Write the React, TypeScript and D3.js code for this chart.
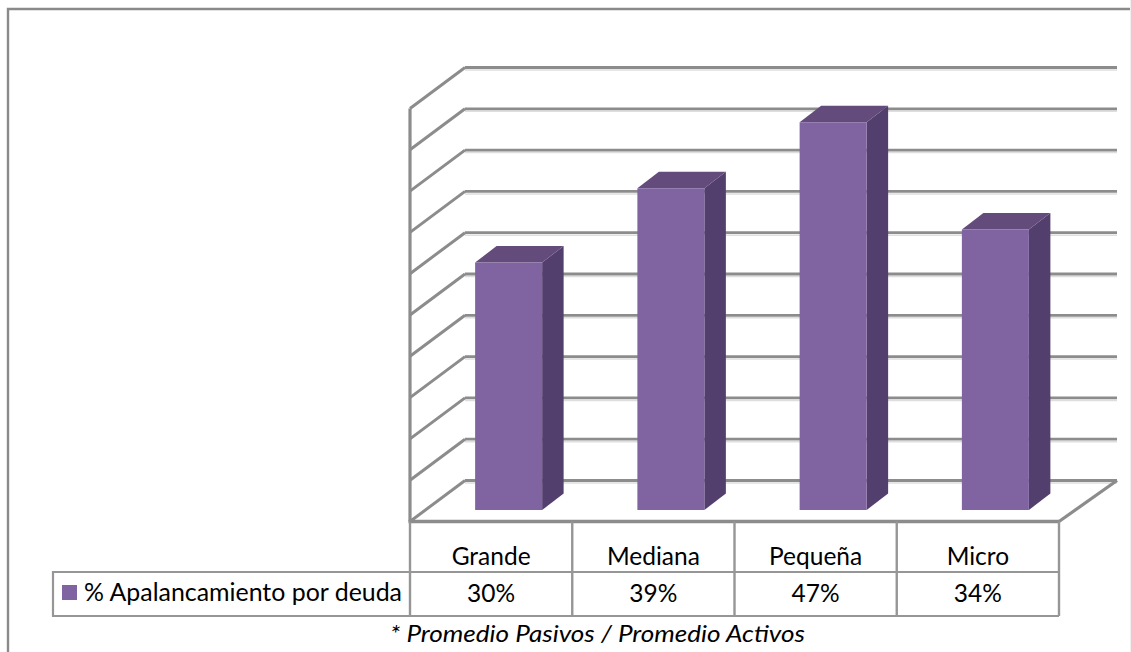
import React from "react";
import * as d3 from "d3";

const categories = ["Grande", "Mediana", "Pequeña", "Micro"];
const leverage = [30, 39, 47, 34];
const gridTicks = [0, 5, 10, 15, 20, 25, 30, 35, 40, 45, 50];
const seriesName = "% Apalancamiento por deuda";
const footnote = "* Promedio Pasivos / Promedio Activos";

const WIDTH = 1131;
const HEIGHT = 652;
const GRID = "#8c8c8c";
const GRID_SHADOW = "#dedede";
const FACE = "#8064a2";
const TOP = "#634b7c";
const SIDE = "#533f6d";
const FONT = "Lato, 'Open Sans', sans-serif";

// Plot box: a front plane carries the table columns, a back plane the gridlines.
const frontX = d3.scaleBand<string>().domain(categories).range([410, 1059]);
const backY = d3.scaleLinear().domain([0, 50]).range([480.5, 67.5]);
const frontY = d3.scaleLinear().domain([0, 50]).range([521.5, 108.5]);
const barY = d3.scaleLinear().domain([0, 50]).range([510, 97.5]);

const BACK_LEFT = 465;
const BACK_RIGHT = 1117;
const BAR_WIDTH = 67;
const BAR_SHIFT = 17.5;
const BAR_DX = 21.5;
const BAR_DY = -16.5;

const polyline = d3.line<[number, number]>();

function Bar({ name, value }: { name: string; value: number }) {
  const x0 = frontX(name)! + frontX.bandwidth() / 2 + BAR_SHIFT - BAR_WIDTH / 2;
  const x1 = x0 + BAR_WIDTH;
  const top = barY(value);
  const bottom = barY(0);
  const topFace: [number, number][] = [
    [x0, top],
    [x0 + BAR_DX, top + BAR_DY],
    [x1 + BAR_DX, top + BAR_DY],
    [x1, top],
  ];
  const sideFace: [number, number][] = [
    [x1, top],
    [x1 + BAR_DX, top + BAR_DY],
    [x1 + BAR_DX, bottom + BAR_DY],
    [x1, bottom],
  ];
  return (
    <g>
      <path d={polyline(sideFace)! + "Z"} fill={SIDE} />
      <path d={polyline(topFace)! + "Z"} fill={TOP} />
      <rect x={x0} y={top} width={BAR_WIDTH} height={bottom - top} fill={FACE} />
    </g>
  );
}

export default function App() {
  const columnEdges = [...categories.map((c) => frontX(c)!), 1059];
  return (
    <svg
      width={WIDTH}
      height={HEIGHT}
      viewBox={`0 0 ${WIDTH} ${HEIGHT}`}
      style={{ position: "fixed", left: 0, top: 0, background: "#fff" }}
    >
      {/* Outer chart border, open at the bottom */}
      <path d="M8,652V9H1131" fill="none" stroke="#8a8a8a" strokeWidth={2.4} />
      <rect x={1130} y={0} width={1} height={HEIGHT} fill="#f0f0f0" />

      {/* Back wall gridlines with their soft shadow */}
      {gridTicks.map((t) => (
        <g key={t}>
          <line x1={BACK_LEFT} x2={BACK_RIGHT} y1={backY(t) + 2.5} y2={backY(t) + 2.5} stroke={GRID_SHADOW} strokeWidth={1.5} />
          <line x1={BACK_LEFT} x2={BACK_RIGHT} y1={backY(t)} y2={backY(t)} stroke={GRID} strokeWidth={2.8} />
          <line x1={410} x2={BACK_LEFT} y1={frontY(t)} y2={backY(t)} stroke={GRID} strokeWidth={3} />
        </g>
      ))}

      {/* Floor edge on the right and front, left wall edge */}
      <line x1={1059} x2={BACK_RIGHT} y1={frontY(0)} y2={backY(0)} stroke={GRID} strokeWidth={3.2} />
      <line x1={410} x2={410} y1={frontY(50)} y2={frontY(0)} stroke={GRID} strokeWidth={3.2} />

      {categories.map((c, i) => (
        <Bar key={c} name={c} value={leverage[i]} />
      ))}

      <line x1={408.5} x2={1059} y1={frontY(0)} y2={frontY(0)} stroke={GRID} strokeWidth={3.6} />

      {/* Data table beneath the plot */}
      {columnEdges.map((x) => (
        <line key={x} x1={x} x2={x} y1={frontY(0)} y2={616} stroke="#969696" strokeWidth={2.4} />
      ))}
      <path d="M1059,572H53V616H1059" fill="none" stroke="#969696" strokeWidth={2.2} />
      <rect x={62} y={585} width={15} height={15} fill={FACE} />
      <text x={84} y={601} fontFamily={FONT} fontSize={24.5} fill="#000" textLength={318} lengthAdjust="spacingAndGlyphs">
        {seriesName}
      </text>

      {categories.map((c, i) => {
        const cx = frontX(c)! + frontX.bandwidth() / 2;
        return (
          <g key={c} fontFamily={FONT} fontSize={24.5} fill="#000" textAnchor="middle">
            <text x={cx} y={565}>{c}</text>
            <text x={cx} y={602}>{`${leverage[i]}%`}</text>
          </g>
        );
      })}

      <text x={390} y={642} fontFamily={FONT} fontSize={24} fontStyle="italic" fill="#000" textLength={415} lengthAdjust="spacingAndGlyphs">
        {footnote}
      </text>
    </svg>
  );
}
